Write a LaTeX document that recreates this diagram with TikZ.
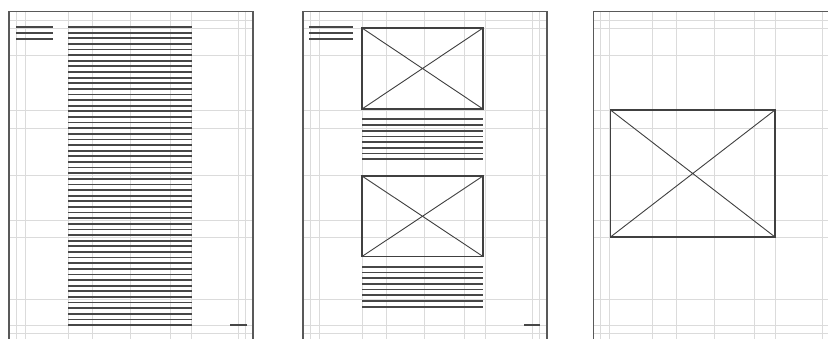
\documentclass[tikz,border=0pt]{standalone}
\begin{document}
\begin{tikzpicture}[x=1pt,y=-1pt,
  gridline/.style={draw=black!14,line width=1pt},
  pageframe/.style={draw=black!65,line width=1.6pt},
  textline/.style={draw=black!72,line width=1.8pt},
  picframe/.style={draw=black!75,line width=1.3pt},
  picdiag/.style={draw=black!75,line width=0.9pt}]
\useasboundingbox (0,0) rectangle (828,338);
\fill[white] (0,0) rectangle (828,338);
\begin{scope}
\clip (0,0) rectangle (828,338);
% pages
\foreach \px in {9,303,593.5}{
  \fill[white] (\px,11.5) rectangle (\px+244,345);
  \foreach \gx in {7,16,59,83,121,161,182,229,236}
    \draw[gridline] (\px+\gx,12) -- (\px+\gx,345);
  \foreach \gy in {20,28,55,110,128,175,220,237,299,325,333}
    \draw[gridline] (\px,\gy) -- (\px+244,\gy);
  \draw[pageframe] (\px,345) -- (\px,11.5) -- (\px+244,11.5) -- (\px+244,345);
}
\end{scope}
% page 1
\foreach \i in {0,1,2} \draw[textline] (16,27+6*\i) -- (53,27+6*\i);
\foreach \i in {0,...,53} \draw[textline] (68,27+5.623*\i) -- (192,27+5.623*\i);
\draw[textline] (230,325) -- (247,325);
% page 2
\foreach \i in {0,1,2} \draw[textline] (309,27+6*\i) -- (353,27+6*\i);
\draw[picframe] (362,28) rectangle (483,109);
\draw[picdiag] (362,28) -- (483,109) (362,109) -- (483,28);
\foreach \i in {0,...,7} \draw[textline] (362,119.3+5.71*\i) -- (483,119.3+5.71*\i);
\draw[picframe] (362,176) rectangle (483,256.5);
\draw[picdiag] (362,176) -- (483,256.5) (362,256.5) -- (483,176);
\foreach \i in {0,...,7} \draw[textline] (362,266.7+5.71*\i) -- (483,266.7+5.71*\i);
\draw[textline] (524,325) -- (540,325);
% page 3
\draw[picframe] (610.5,110) rectangle (775,237);
\draw[picdiag] (610.5,110) -- (775,237) (610.5,237) -- (775,110);
\end{tikzpicture}
\end{document}
